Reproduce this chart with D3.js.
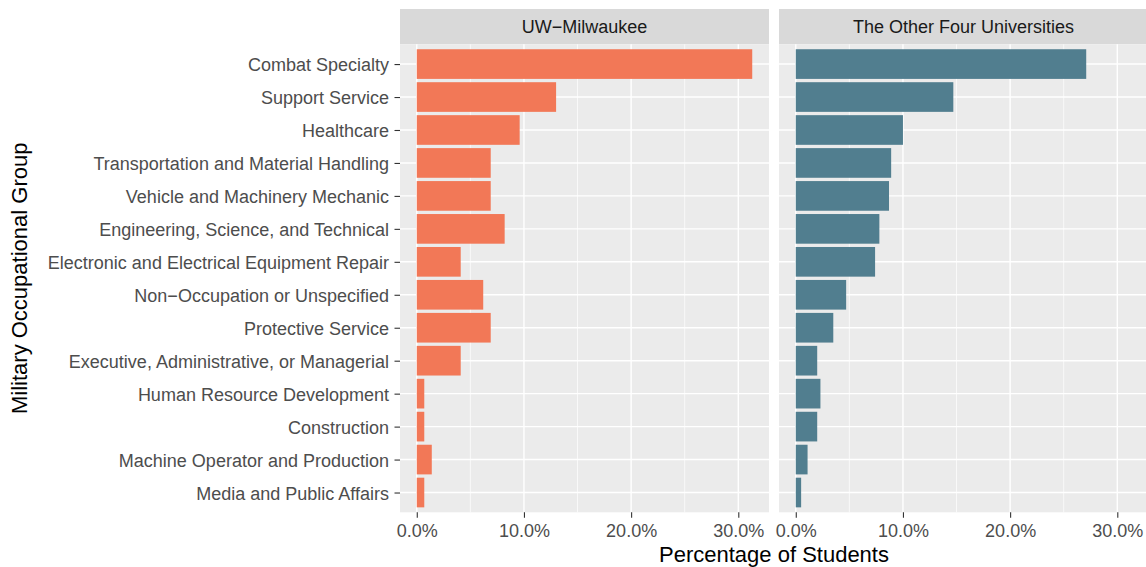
<!DOCTYPE html>
<html>
<head>
<meta charset="utf-8">
<script src="https://cdn.jsdelivr.net/npm/d3@7"></script>
<style>
  body { margin: 0; background: #fff; }
  text { font-family: "Liberation Sans", Arial, sans-serif; }
</style>
</head>
<body>
<div id="visualization"></div>
<script>
/*************************************/
/* Data                              */
/*************************************/

const groups = [
  'Combat Specialty',
  'Support Service',
  'Healthcare',
  'Transportation and Material Handling',
  'Vehicle and Machinery Mechanic',
  'Engineering, Science, and Technical',
  'Electronic and Electrical Equipment Repair',
  'Non\u2212Occupation or Unspecified',
  'Protective Service',
  'Executive, Administrative, or Managerial',
  'Human Resource Development',
  'Construction',
  'Machine Operator and Production',
  'Media and Public Affairs'
];

const facets = ['UW\u2212Milwaukee', 'The Other Four Universities'];

// share of students
const milwaukee = [0.313, 0.130, 0.096, 0.069, 0.069, 0.082, 0.041, 0.062, 0.069, 0.041, 0.007, 0.007, 0.014, 0.007];
const otherFour = [0.271, 0.147, 0.100, 0.089, 0.087, 0.078, 0.074, 0.047, 0.035, 0.020, 0.023, 0.020, 0.011, 0.005];

const xTicks = [0, 0.1, 0.2, 0.3];
const xMinor = [0.05, 0.15, 0.25];


/*************************************/
/* Layout                            */
/*************************************/

const width = 1146;
const height = 567;

const panelWidth = 369;
const panelLefts = [400, 779];
const stripTop = 9;
const panelTop = 44.3;
const panelBottom = 512.3;

const fills = ['#F27857', '#517E8F'];
const seriesList = [milwaukee, otherFour];

const tickText = 18;
const titleText = 22;


/*************************************/
/* Create visualization              */
/*************************************/

const maxVal = d3.max([...milwaukee, ...otherFour]);
const xPad = maxVal * 0.05;

const x = d3.scaleLinear()
  .domain([-xPad, maxVal + xPad])
  .range([0, panelWidth]);

// discrete axis with ggplot-style 0.6 expansion on each side
const yPos = d3.scaleLinear()
  .domain([0.4, groups.length + 0.6])
  .range([panelTop, panelBottom]);
const y = name => yPos(groups.indexOf(name) + 1);
const barH = (yPos(2) - yPos(1)) * 0.9;

const viz = d3.select('#visualization')
  .append('svg')
  .attr('width', width)
  .attr('height', height);

facets.forEach((facet, i) => {
  const g = viz.append('g')
    .attr('transform', `translate(${panelLefts[i]},0)`);

  // strip
  g.append('rect')
    .attr('x', 0)
    .attr('y', stripTop)
    .attr('width', panelWidth)
    .attr('height', panelTop - stripTop)
    .attr('fill', '#D9D9D9');

  g.append('text')
    .attr('x', panelWidth / 2)
    .attr('y', (stripTop + panelTop) / 2)
    .attr('dy', '0.36em')
    .attr('text-anchor', 'middle')
    .attr('font-size', tickText)
    .attr('fill', '#1A1A1A')
    .text(facet);

  // panel background
  g.append('rect')
    .attr('x', 0)
    .attr('y', panelTop)
    .attr('width', panelWidth)
    .attr('height', panelBottom - panelTop)
    .attr('fill', '#EBEBEB');

  // grid lines
  g.append('g')
    .selectAll('line')
    .data(xMinor)
    .join('line')
      .attr('x1', d => x(d))
      .attr('x2', d => x(d))
      .attr('y1', panelTop)
      .attr('y2', panelBottom)
      .attr('stroke', '#fff')
      .attr('stroke-width', 0.7);

  g.append('g')
    .selectAll('line')
    .data(xTicks)
    .join('line')
      .attr('x1', d => x(d))
      .attr('x2', d => x(d))
      .attr('y1', panelTop)
      .attr('y2', panelBottom)
      .attr('stroke', '#fff')
      .attr('stroke-width', 1.4);

  g.append('g')
    .selectAll('line')
    .data(groups)
    .join('line')
      .attr('x1', 0)
      .attr('x2', panelWidth)
      .attr('y1', d => y(d))
      .attr('y2', d => y(d))
      .attr('stroke', '#fff')
      .attr('stroke-width', 1.4);

  // bars
  g.append('g')
    .selectAll('rect')
    .data(groups.map((name, k) => ({ name, value: seriesList[i][k] })))
    .join('rect')
      .attr('x', x(0))
      .attr('y', d => y(d.name) - barH / 2)
      .attr('width', d => x(d.value) - x(0))
      .attr('height', barH)
      .attr('fill', fills[i]);

  // x axis
  const xAxis = g.append('g')
    .attr('transform', `translate(0,${panelBottom})`)
    .call(d3.axisBottom(x)
      .tickValues(xTicks)
      .tickFormat(d3.format('.1%'))
      .tickSize(5.5)
      .tickPadding(6));
  xAxis.select('.domain').remove();
  xAxis.selectAll('line').attr('stroke', '#333333').attr('stroke-width', 1.1);
  xAxis.selectAll('text')
    .attr('font-size', tickText)
    .attr('font-family', '"Liberation Sans", Arial, sans-serif')
    .attr('fill', '#4D4D4D');
});

// y axis (left panel only)
const yAxis = viz.append('g')
  .attr('transform', `translate(${panelLefts[0]},0)`)
  .call(d3.axisLeft(yPos)
    .tickValues(d3.range(1, groups.length + 1))
    .tickFormat(k => groups[k - 1])
    .tickSize(5.5)
    .tickPadding(5.5));
yAxis.select('.domain').remove();
yAxis.selectAll('line').attr('stroke', '#333333').attr('stroke-width', 1.1);
yAxis.selectAll('text')
  .attr('font-size', tickText)
  .attr('dy', '0.36em')
  .attr('font-family', '"Liberation Sans", Arial, sans-serif')
  .attr('fill', '#4D4D4D');

// axis titles
viz.append('text')
  .attr('x', (panelLefts[0] + panelLefts[1] + panelWidth) / 2)
  .attr('y', 561.5)
  .attr('text-anchor', 'middle')
  .attr('font-size', titleText)
  .attr('fill', '#000')
  .text('Percentage of Students');

viz.append('text')
  .attr('transform', `translate(27,${(panelTop + panelBottom) / 2}) rotate(-90)`)
  .attr('text-anchor', 'middle')
  .attr('font-size', titleText)
  .attr('fill', '#000')
  .text('Military Occupational Group');
</script>
</body>
</html>
